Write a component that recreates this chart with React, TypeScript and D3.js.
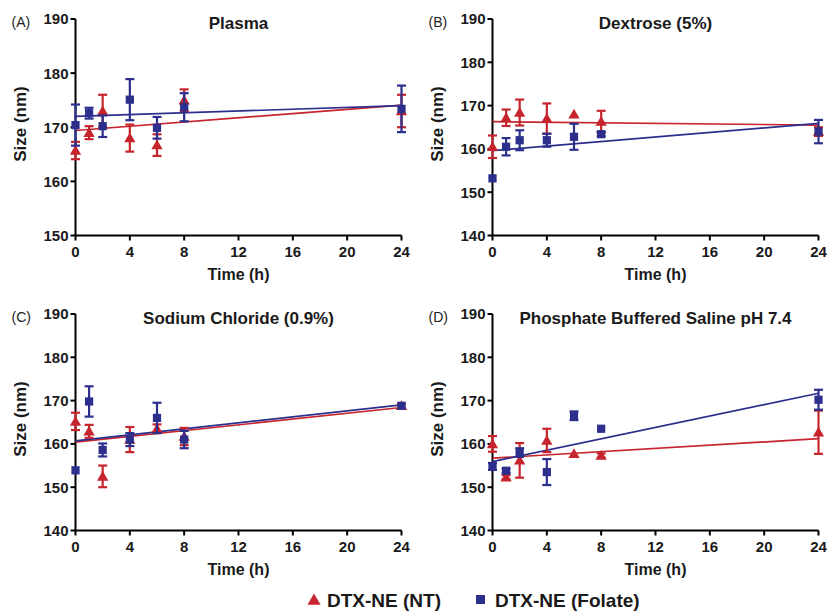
import * as d3 from "d3";

// sampling times (h)
const times = [0, 1, 2, 4, 6, 8, 24];
const xTicks = [0, 4, 8, 12, 16, 20, 24];

const panelIds = ["(A)", "(B)", "(C)", "(D)"];
const panelTitles = ["Plasma", "Dextrose (5%)", "Sodium Chloride (0.9%)", "Phosphate Buffered Saline pH 7.4"];
const yMins = [150, 140, 140, 140];
const yMax = 190;

// DTX-NE (NT) - red triangles
const ntMeans = [
  [165.7, 169, 173, 168, 166.7, 175, 173],
  [160.5, 167.2, 168.4, 167, 168, 166.3, 164],
  [165.2, 162.9, 152.5, 161, 163.5, 161.7, 168.8],
  [160, 152.3, 156.2, 160.8, 157.7, 157.3, 162.7],
];
const ntErrs = [
  [1.6, 1.2, 3, 2.5, 2, 2, 3],
  [2.6, 1.9, 3, 3.5, 0, 2.5, 1],
  [2, 1.5, 2.5, 2.9, 1, 2, 0.5],
  [1.8, 0.5, 4, 2.7, 0, 0.5, 5],
];
// DTX-NE (Folate) - blue squares
const folMeans = [
  [170.4, 172.6, 170.2, 175.1, 169.9, 173.7, 173.4],
  [153.2, 160.5, 162, 162, 162.8, 163.4, 164],
  [153.9, 169.8, 158.6, 161, 166, 161, 168.8],
  [154.8, 153.8, 158, 153.5, 166.5, 163.5, 170.2],
];
const folErrs = [
  [3.8, 1, 2, 3.8, 2, 2.6, 4.3],
  [0, 2, 2.3, 1.5, 3, 0.5, 2.7],
  [0, 3.5, 1.5, 1.5, 3.5, 2, 0],
  [0.8, 0.5, 1, 3, 1, 0, 2.3],
];

// linear fit values at t=0 and t=24
const ntFit0 = [169.4, 166.3, 160.4, 156.7];
const ntFit24 = [174.1, 165.5, 168.4, 161.2];
const folFit0 = [172, 159.6, 160.7, 155.9];
const folFit24 = [174, 165.9, 169, 171.7];

const RED = "#c6252d";
const BLUE = "#2c2f8c";
const FONT = "'Liberation Sans', Arial, sans-serif";

const plotLefts = [75.5, 492.5, 75.5, 492.5];
const plotTops = [19, 19, 314, 314];
const plotW = 326;
const plotH = 216.5;

function Panel({ i }: { i: number }) {
  const ox = plotLefts[i];
  const oy = plotTops[i];
  const x = d3.scaleLinear().domain([0, 24]).range([ox, ox + plotW]);
  const y = d3.scaleLinear().domain([yMins[i], yMax]).range([oy + plotH, oy]);
  const yTicks = d3.range(yMins[i], yMax + 1, 10);
  const bottom = oy + plotH;
  const tri = d3.symbol().type(d3.symbolTriangle).size(55)();
  const sq = d3.symbol().type(d3.symbolSquare).size(68)();
  const fitLine = d3.line<[number, number]>().x(d => x(d[0])).y(d => y(d[1]));

  const errBar = (t: number, m: number, e: number, color: string, key: string) =>
    e > 0 ? (
      <g key={key} stroke={color} strokeWidth={2.2}>
        <line x1={x(t)} x2={x(t)} y1={y(m - e)} y2={y(m + e)} />
        <line x1={x(t) - 4.5} x2={x(t) + 4.5} y1={y(m - e)} y2={y(m - e)} />
        <line x1={x(t) - 4.5} x2={x(t) + 4.5} y1={y(m + e)} y2={y(m + e)} />
      </g>
    ) : null;

  return (
    <g>
      <text x={ox - 64} y={oy + 8} fontSize={14} fontFamily={FONT} fill="#222">{panelIds[i]}</text>
      <text x={ox + plotW / 2} y={oy + 10} fontSize={17} fontWeight="bold" fontFamily={FONT} textAnchor="middle" fill="#1a1a1a">
        {panelTitles[i]}
      </text>
      <text
        transform={`translate(${ox - 50},${oy + 105}) rotate(-90)`}
        fontSize={17}
        fontWeight="bold"
        fontFamily={FONT}
        textAnchor="middle"
        fill="#1a1a1a"
      >
        Size (nm)
      </text>
      <text x={ox + plotW / 2} y={bottom + 44} fontSize={16} fontWeight="bold" fontFamily={FONT} textAnchor="middle" fill="#1a1a1a">
        Time (h)
      </text>

      {/* axes */}
      <g stroke="#000" strokeWidth={2}>
        <line x1={ox} x2={ox} y1={oy} y2={bottom} />
        <line x1={ox} x2={ox + plotW} y1={bottom} y2={bottom} />
        {yTicks.map(v => (
          <line key={"yt" + v} x1={ox - 5} x2={ox} y1={y(v)} y2={y(v)} />
        ))}
        {xTicks.map(v => (
          <line key={"xt" + v} x1={x(v)} x2={x(v)} y1={bottom} y2={bottom + 5} />
        ))}
      </g>
      {yTicks.map(v => (
        <text key={"yl" + v} x={ox - 7} y={y(v)} dy="0.36em" textAnchor="end" fontSize={15} fontWeight="bold" fontFamily={FONT} fill="#1a1a1a">
          {v}
        </text>
      ))}
      {xTicks.map(v => (
        <text key={"xl" + v} x={x(v)} y={bottom + 21} textAnchor="middle" fontSize={15} fontWeight="bold" fontFamily={FONT} fill="#1a1a1a">
          {v}
        </text>
      ))}

      {/* fits */}
      <path d={fitLine([[0, ntFit0[i]], [24, ntFit24[i]]]) || ""} stroke={RED} strokeWidth={1.7} fill="none" />
      <path d={fitLine([[0, folFit0[i]], [24, folFit24[i]]]) || ""} stroke={BLUE} strokeWidth={1.7} fill="none" />

      {/* NT */}
      {times.map((t, j) => errBar(t, ntMeans[i][j], ntErrs[i][j], RED, "ne" + j))}
      {times.map((t, j) => (
        <path key={"nm" + j} d={tri || ""} transform={`translate(${x(t)},${y(ntMeans[i][j]) + 1})`} fill={RED} />
      ))}
      {/* Folate */}
      {times.map((t, j) => errBar(t, folMeans[i][j], folErrs[i][j], BLUE, "fe" + j))}
      {times.map((t, j) => (
        <path key={"fm" + j} d={sq || ""} transform={`translate(${x(t)},${y(folMeans[i][j])})`} fill={BLUE} />
      ))}
    </g>
  );
}

export default function App() {
  const tri = d3.symbol().type(d3.symbolTriangle).size(75)();
  return (
    <svg width={830} height={612} style={{ position: "absolute", left: 0, top: 0, background: "#fff" }}>
      <rect width={830} height={612} fill="#fff" />
      {panelIds.map((_, i) => (
        <Panel key={i} i={i} />
      ))}
      <g fontFamily={FONT} fontWeight="bold" fontSize={19} fill="#1a1a1a">
        <path d={tri || ""} transform="translate(314,601)" fill={RED} />
        <text x={327} y={607}>DTX-NE (NT)</text>
        <rect x={476} y={595} width={9} height={9} fill={BLUE} />
        <text x={495} y={607}>DTX-NE (Folate)</text>
      </g>
    </svg>
  );
}
